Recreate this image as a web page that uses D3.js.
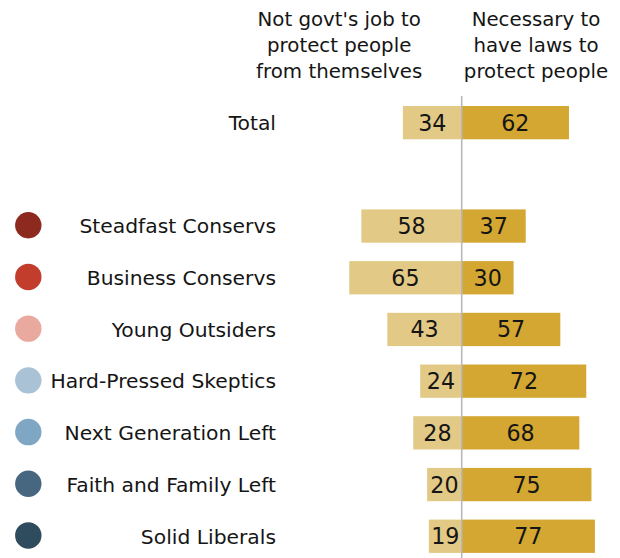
<!DOCTYPE html>
<html>
<head>
<meta charset="utf-8">
<script src="https://cdn.jsdelivr.net/npm/d3@7"></script>
<style>
  html, body { margin: 0; padding: 0; background: #fff; }
  svg { display: block; }
  text { font-family: "DejaVu Sans", "Open Sans", sans-serif; fill: #151515; }
</style>
</head>
<body>
<svg id="chart" width="620" height="558"></svg>
<script>
// Rows, top to bottom ("" is the empty spacer row below Total)
const categories = ["Total", "", "Steadfast Conservs", "Business Conservs", "Young Outsiders",
  "Hard-Pressed Skeptics", "Next Generation Left", "Faith and Family Left", "Solid Liberals"];
const notGovtJob = [34, null, 58, 65, 43, 24, 28, 20, 19];
const necessaryLaws = [62, null, 37, 30, 57, 72, 68, 75, 77];
const dotColors = [null, null, "#8c2a1f", "#c23d2c", "#eaa99f", "#aac2d6", "#7fa6c2", "#46677f", "#2f4b5e"];
const headerLeft = ["Not govt's job to", "protect people", "from themselves"];
const headerRight = ["Necessary to", "have laws to", "protect people"];

const svg = d3.select("#chart");
const center = 461.7;

// bar length per percentage point
const len = d3.scaleLinear().domain([0, 100]).range([0, 173]);

const y = d3.scaleBand()
  .domain(d3.range(categories.length))
  .range([106, 552.9])
  .paddingInner(0.356)
  .paddingOuter(0);

const rows = categories.map((c, i) => ({
  name: c, left: notGovtJob[i], right: necessaryLaws[i], color: dotColors[i], i
})).filter(d => d.left !== null);

// column headers
const hdr = svg.append("g").attr("font-size", 19.8);
[[headerLeft, 339.2], [headerRight, 536]].forEach(([lines, cx]) => {
  hdr.selectAll(null).data(lines).join("text")
    .attr("x", cx)
    .attr("y", (d, k) => 26.2 + k * 25.85)
    .attr("text-anchor", "middle")
    .text(d => d);
});

// left bars
svg.append("g").selectAll("rect").data(rows).join("rect")
  .attr("x", d => center - len(d.left))
  .attr("y", d => y(d.i))
  .attr("width", d => len(d.left))
  .attr("height", y.bandwidth())
  .attr("fill", "#e2ca86");

// right bars
svg.append("g").selectAll("rect").data(rows).join("rect")
  .attr("x", center)
  .attr("y", d => y(d.i))
  .attr("width", d => len(d.right))
  .attr("height", y.bandwidth())
  .attr("fill", "#d3a731");

// divider
svg.append("line")
  .attr("x1", center).attr("x2", center)
  .attr("y1", 96).attr("y2", 558)
  .attr("stroke", "#b8b8b8").attr("stroke-width", 1.6);

// value labels
const vals = svg.append("g").attr("font-size", 22.2).attr("text-anchor", "middle");
vals.selectAll(".l").data(rows).join("text").attr("class", "l")
  .attr("x", d => center - len(d.left) / 2)
  .attr("y", d => y(d.i) + y.bandwidth() / 2)
  .attr("dy", "0.36em")
  .text(d => d.left);
vals.selectAll(".r").data(rows).join("text").attr("class", "r")
  .attr("x", d => center + len(d.right) / 2)
  .attr("y", d => y(d.i) + y.bandwidth() / 2)
  .attr("dy", "0.36em")
  .text(d => d.right);

// category labels
svg.append("g").attr("font-size", 20.3).attr("text-anchor", "end")
  .selectAll("text").data(rows).join("text")
  .attr("x", 276)
  .attr("y", d => y(d.i) + y.bandwidth() / 2)
  .attr("dy", "0.36em")
  .text(d => d.name);

// group dots
svg.append("g").selectAll("circle").data(rows.filter(d => d.color)).join("circle")
  .attr("cx", 28.3)
  .attr("cy", d => y(d.i) + y.bandwidth() / 2 - 0.8)
  .attr("r", 13.2)
  .attr("fill", d => d.color);
</script>
</body>
</html>
